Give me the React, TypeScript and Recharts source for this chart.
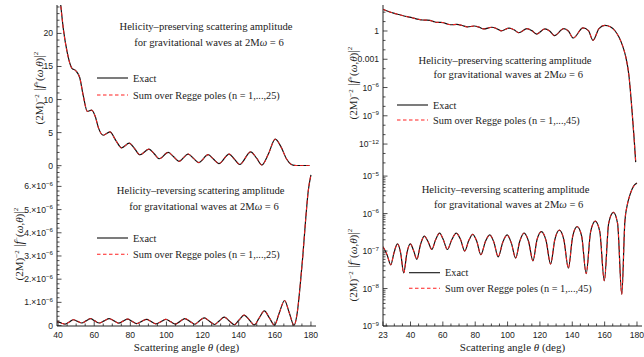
import React from "react";
import { LineChart, Line, XAxis, YAxis, Legend } from "recharts";

// |f+(ω,θ)|² / (2M)², helicity-preserving, 2Mω = 6
const thetaPlus = [
  23, 26, 29, 32, 35, 38, 41, 43, 45, 47.5, 50, 52, 54, 56.2, 58.6, 60.5, 62.5, 65, 68.7, 72, 75.2,
  79.4, 82.3, 85.3, 90.3, 93.2, 96, 101, 104, 106.9, 112, 115, 117.9, 123.1, 126, 129, 134.7, 137.7,
  140.6, 146.6, 150, 152.8, 156.5, 160.2, 163.5, 166.5, 169, 171, 173, 175, 176.9, 178.3, 179.2,
];
const ampPlus = [
  200, 125, 85, 60, 44, 33, 25.5, 20.5, 17.2, 14.8, 14.3, 13.3, 10.5, 8.2, 8.4, 7.5, 5.6, 4.6, 5.1, 3.8,
  2.7, 3.4, 2.6, 1.65, 2.5, 1.8, 1.05, 2.0, 1.35, 0.65, 1.76, 1.1, 0.47, 1.66, 1.0, 0.32, 1.76, 0.95,
  0.18, 2.1, 1.1, 0.1, 1.8, 4.0, 2.8, 1.0, 0.2, 0.03, 0.002, 2e-5, 4e-9, 2.5e-12, 1.2e-14,
];

// |f−(ω,θ)|² / (2M)², helicity-reversing, 2Mω = 6
const thetaMinus = [
  23, 25.5, 27.8, 29.8, 31.9, 33.9, 35.8, 37.8, 39.9, 42, 43.9, 46.2, 48.5, 50.8, 53.2, 55.5, 58, 60.3,
  62.8, 65.5, 68.3, 71, 73.5, 76, 78.5, 81, 83.5, 86.3, 89, 91.6, 94.2, 97, 99.7, 102.4, 105, 107.5,
  110.2, 113, 115.7, 118.2, 120.9, 123.8, 126.6, 129.2, 132, 134.8, 137.6, 140.2, 143, 145.8, 148.6,
  151.3, 154.2, 157, 159.8, 162.5, 165.4, 168, 170.6, 172.5, 174, 175.5, 177, 178.5, 180,
];
const ampMinus = [
  1.3e-7, 8e-8, 4.3e-8, 9e-8, 1.55e-7, 9e-8, 2.6e-8, 9e-8, 1.55e-7, 1e-7, 6e-8, 1.5e-7, 2.5e-7, 1.8e-7,
  1.1e-7, 2e-7, 3e-7, 2e-7, 1.1e-7, 2e-7, 3e-7, 2e-7, 1e-7, 1.9e-7, 2.8e-7, 1.8e-7, 8e-8, 1.8e-7,
  2.7e-7, 1.7e-7, 7e-8, 1.7e-7, 2.7e-7, 1.6e-7, 6.5e-8, 1.8e-7, 3e-7, 1.8e-7, 5.5e-8, 2e-7, 3.3e-7,
  1.9e-7, 4.5e-8, 2e-7, 3.6e-7, 2e-7, 3.5e-8, 2.4e-7, 4.5e-7, 2.5e-7, 2.5e-8, 3.2e-7, 6.3e-7, 3.3e-7,
  1.6e-8, 5.5e-7, 1.08e-6, 5.5e-7, 7e-9, 6e-7, 1.7e-6, 3e-6, 4.5e-6, 5.8e-6, 6.5e-6,
];

// labelled tick values
const leftAngleTicks = [40, 60, 80, 100, 120, 140, 160, 180];
const rightAngleTicks = [23, 40, 60, 80, 100, 120, 140, 160, 180];
const linPlusTicks = [0, 5, 10, 15, 20];
const linMinusTicks = [0, 1e-6, 2e-6, 3e-6, 4e-6, 5e-6, 6e-6];
const logPlusTicks = [1e-12, 1e-9, 1e-6, 1e-3, 1];
const logMinusTicks = [1e-9, 1e-8, 1e-7, 1e-6, 1e-5];

const SERIF = "'Liberation Serif', 'DejaVu Serif', serif";
const SANS = "'Liberation Sans', Arial, sans-serif";
const INK = "#222";
const EXACT = "#111";
const REGGE = "#ff2020";

type Row = { theta: number; exact: number; regge: number };

// the Regge-pole sum lies on top of the exact curve
const plusRows: Row[] = thetaPlus.map((theta, i) => ({ theta, exact: ampPlus[i], regge: ampPlus[i] }));
const minusRows: Row[] = thetaMinus.map((theta, i) => ({ theta, exact: ampMinus[i], regge: ampMinus[i] }));

const range = (a: number, b: number, step: number) => {
  const out: number[] = [];
  for (let v = a; v <= b + step * 1e-6; v += step) out.push(+v.toPrecision(10));
  return out;
};
const near = (v: number, list: number[]) => list.some((m) => Math.abs(v - m) <= Math.abs(m) * 1e-6 + 1e-18);
const withMinors = (major: number[], minor: number[]) => [...major, ...minor.filter((v) => !near(v, major))];

const leftAngleAll = withMinors(leftAngleTicks, range(40, 180, 5));
const rightAngleAll = withMinors(rightAngleTicks, range(25, 180, 5));
const linPlusAll = withMinors(linPlusTicks, range(0, 24, 1));
const linMinusAll = withMinors(linMinusTicks, range(0, 6.8e-6, 0.2e-6));
const logPlusAll = withMinors(logPlusTicks, range(-14, 2, 1).map((e) => Math.pow(10, e)));
const logMinusAll = withMinors(
  logMinusTicks,
  range(-9, -5, 1).flatMap((e) => range(1, 9, 1).map((k) => +(k * Math.pow(10, e)).toPrecision(6))).filter((v) => v < 1.8e-5)
);

const sup = (s: string) => (
  <tspan dy={-3.5} fontSize={6.2}>
    {s}
  </tspan>
);
const fmtPlain = (v: number) => String(v);
const fmtSci = (v: number) => (v === 0 ? "0" : <>{`${Math.round(v * 1e6)}.×10`}{sup("−6")}</>);
const fmtPow = (v: number) => <>10{sup(`−${-Math.round(Math.log10(v))}`)}</>;
const fmtLogPlus = (v: number) => (v === 1 ? "1" : near(v, [1e-3]) ? "0.001" : fmtPow(v));

type Side = "bottom" | "top" | "left" | "right";

// inward frame ticks, labelled on the bottom/left sides only
function frameTick(side: Side, major: number[], fmt?: (v: number) => React.ReactNode) {
  return (props: any) => {
    const { x, y, payload } = props;
    const big = near(payload.value, major);
    const len = big ? 4.5 : 2.5;
    const dx = side === "left" ? len : side === "right" ? -len : 0;
    const dy = side === "bottom" ? -len : side === "top" ? len : 0;
    return (
      <g>
        <line x1={x} y1={y} x2={x + dx} y2={y + dy} stroke={INK} strokeWidth={0.8} />
        {big && fmt && side === "bottom" && (
          <text x={x} y={y + 11.5} textAnchor="middle" fontFamily={SANS} fontSize={8.6} fill={INK}>
            {fmt(payload.value)}
          </text>
        )}
        {big && fmt && side === "left" && (
          <text x={x - 4} y={y + 3} textAnchor="end" fontFamily={SANS} fontSize={8.6} fill={INK}>
            {fmt(payload.value)}
          </text>
        )}
      </g>
    );
  };
}

function AmpTitle({ cx, cy, sign }: { cx: number; cy: number; sign: string }) {
  return (
    <text
      x={cx}
      y={cy}
      transform={`rotate(-90 ${cx} ${cy})`}
      textAnchor="middle"
      fontFamily={SERIF}
      fontSize={11}
      fill={INK}
    >
      (2M)
      <tspan dy={-4} fontSize={7}>
        −2
      </tspan>
      <tspan dy={4} fontSize={13}>
        {" |"}
      </tspan>
      <tspan fontStyle="italic" fontSize={12.5}>
        f
      </tspan>
      <tspan dy={-4.5} fontSize={7}>
        {sign}
      </tspan>
      <tspan dy={4.5}>(</tspan>
      <tspan fontStyle="italic">ω</tspan>,<tspan fontStyle="italic">θ</tspan>)
      <tspan fontSize={13}>|</tspan>
      <tspan dy={-5} fontSize={7}>
        2
      </tspan>
    </text>
  );
}

function AngleTitle(props: any) {
  const { x, y, width } = props.viewBox;
  return (
    <text x={x + width / 2} y={y + 25} textAnchor="middle" fontFamily={SERIF} fontSize={11} fill={INK}>
      Scattering angle <tspan fontStyle="italic">θ</tspan> (deg)
    </text>
  );
}

type NotesProps = {
  w: number;
  h: number;
  kind: string;
  poles: number;
  line1: [number, number];
  line2: [number, number];
  keyX: number;
  keyY: [number, number];
};

function Notes({ w, h, kind, poles, line1, line2, keyX, keyY }: NotesProps) {
  const txt = { fontFamily: SERIF, fill: INK };
  return (
    <svg width={w} height={h} style={{ position: "absolute", left: 0, top: 0, pointerEvents: "none" }}>
      <text x={line1[0]} y={line1[1]} textAnchor="middle" fontSize={10.6} {...txt}>
        {`Helicity–${kind} scattering amplitude`}
      </text>
      <text x={line2[0]} y={line2[1]} textAnchor="middle" fontSize={10.6} {...txt}>
        for gravitational waves at 2M<tspan fontStyle="italic">ω</tspan> = 6
      </text>
      <line x1={keyX} x2={keyX + 31} y1={keyY[0]} y2={keyY[0]} stroke={EXACT} strokeWidth={1.1} />
      <text x={keyX + 36} y={keyY[0] + 3.6} fontSize={10.3} {...txt}>
        Exact
      </text>
      <line
        x1={keyX}
        x2={keyX + 31}
        y1={keyY[1]}
        y2={keyY[1]}
        stroke={REGGE}
        strokeWidth={1.1}
        strokeDasharray="3.5 2.5"
      />
      <text x={keyX + 36} y={keyY[1] + 3.6} fontSize={10.3} {...txt}>
        {`Sum over Regge poles (n = 1,...,${poles})`}
      </text>
    </svg>
  );
}

type PanelProps = {
  left: number;
  top: number;
  width: number;
  height: number;
  margin: { top: number; right: number; bottom: number; left: number };
  yWidth: number;
  xHeight: number;
  rows: Row[];
  xDomain: [number, number];
  xTicks: number[];
  xMajor: number[];
  showAngles: boolean;
  yScale: "linear" | "log";
  yDomain: [number, number];
  yTicks: number[];
  yMajor: number[];
  yFmt: (v: number) => React.ReactNode;
  sign: string;
  titleAt: [number, number];
  notes: Omit<NotesProps, "w" | "h">;
};

function Panel(p: PanelProps) {
  return (
    <div style={{ position: "absolute", left: p.left, top: p.top }}>
      <LineChart width={p.width} height={p.height} data={p.rows} margin={p.margin}>
        <XAxis
          xAxisId="b"
          dataKey="theta"
          type="number"
          domain={p.xDomain}
          allowDataOverflow
          ticks={p.xTicks}
          interval={0}
          height={p.xHeight}
          tickLine={false}
          tickSize={0}
          tickMargin={0}
          axisLine={{ stroke: INK, strokeWidth: 1 }}
          tick={frameTick("bottom", p.xMajor, p.showAngles ? fmtPlain : undefined)}
          label={p.showAngles ? { content: AngleTitle } : undefined}
        />
        <XAxis
          xAxisId="t"
          orientation="top"
          dataKey="theta"
          type="number"
          domain={p.xDomain}
          allowDataOverflow
          ticks={p.xTicks}
          interval={0}
          height={0}
          tickLine={false}
          tickSize={0}
          tickMargin={0}
          axisLine={{ stroke: INK, strokeWidth: 1 }}
          tick={frameTick("top", p.xMajor)}
        />
        <YAxis
          yAxisId="l"
          scale={p.yScale}
          domain={p.yDomain}
          allowDataOverflow
          ticks={p.yTicks}
          interval={0}
          width={p.yWidth}
          tickLine={false}
          tickSize={0}
          tickMargin={0}
          axisLine={{ stroke: INK, strokeWidth: 1 }}
          tick={frameTick("left", p.yMajor, p.yFmt)}
          label={{ content: () => <AmpTitle cx={p.titleAt[0]} cy={p.titleAt[1]} sign={p.sign} /> }}
        />
        <YAxis
          yAxisId="r"
          orientation="right"
          scale={p.yScale}
          domain={p.yDomain}
          allowDataOverflow
          ticks={p.yTicks}
          interval={0}
          width={0}
          tickLine={false}
          tickSize={0}
          tickMargin={0}
          axisLine={{ stroke: INK, strokeWidth: 1 }}
          tick={frameTick("right", p.yMajor)}
        />
        <Line
          xAxisId="b"
          yAxisId="l"
          dataKey="exact"
          name="Exact"
          type="monotone"
          stroke={EXACT}
          strokeWidth={1.2}
          dot={false}
          isAnimationActive={false}
        />
        <Line
          xAxisId="b"
          yAxisId="l"
          dataKey="regge"
          name="Sum over Regge poles"
          type="monotone"
          stroke={REGGE}
          strokeWidth={1}
          strokeDasharray="3.5 2.5"
          dot={false}
          isAnimationActive={false}
        />
        <Legend
          verticalAlign="middle"
          align="center"
          layout="horizontal"
          wrapperStyle={{ left: 0, top: 0, width: p.width, height: p.height, pointerEvents: "none" }}
          content={() => <Notes w={p.width} h={p.height} {...p.notes} />}
        />
      </LineChart>
    </div>
  );
}

export default function App() {
  return (
    <div style={{ position: "absolute", left: 0, top: 0, width: 644, height: 357, background: "#fff" }}>
      <Panel
        left={0}
        top={0}
        width={330}
        height={170}
        margin={{ top: 5, right: 14, bottom: 4, left: 0 }}
        yWidth={57}
        xHeight={0}
        rows={plusRows}
        xDomain={[39.4, 182.8]}
        xTicks={leftAngleAll}
        xMajor={leftAngleTicks}
        showAngles={false}
        yScale="linear"
        yDomain={[-0.05, 24.3]}
        yTicks={linPlusAll}
        yMajor={linPlusTicks}
        yFmt={fmtPlain}
        sign="+"
        titleAt={[43, 88]}
        notes={{ kind: "preserving", poles: 25, line1: [206, 29.5], line2: [209, 45.5], keyX: 97, keyY: [78, 95] }}
      />
      <Panel
        left={0}
        top={150}
        width={330}
        height={207}
        margin={{ top: 16, right: 14, bottom: 0, left: 0 }}
        yWidth={57}
        xHeight={31}
        rows={minusRows}
        xDomain={[39.4, 182.8]}
        xTicks={leftAngleAll}
        xMajor={leftAngleTicks}
        showAngles
        yScale="linear"
        yDomain={[-0.02e-6, 6.88e-6]}
        yTicks={linMinusAll}
        yMajor={linMinusTicks}
        yFmt={fmtSci}
        sign="−"
        titleAt={[23, 94]}
        notes={{ kind: "reversing", poles: 25, line1: [200.7, 44], line2: [204, 59.5], keyX: 97, keyY: [88, 104.3] }}
      />
      <Panel
        left={322}
        top={0}
        width={322}
        height={170}
        margin={{ top: 5, right: 2, bottom: 4, left: 0 }}
        yWidth={61}
        xHeight={0}
        rows={plusRows}
        xDomain={[23, 183.1]}
        xTicks={rightAngleAll}
        xMajor={rightAngleTicks}
        showAngles={false}
        yScale="log"
        yDomain={[4.68e-15, 575]}
        yTicks={logPlusAll}
        yMajor={logPlusTicks}
        yFmt={fmtLogPlus}
        sign="+"
        titleAt={[35, 83]}
        notes={{ kind: "preserving", poles: 45, line1: [183, 63.5], line2: [186.3, 77.5], keyX: 75, keyY: [105, 120] }}
      />
      <Panel
        left={322}
        top={150}
        width={322}
        height={207}
        margin={{ top: 16, right: 2, bottom: 0, left: 0 }}
        yWidth={61}
        xHeight={31}
        rows={minusRows}
        xDomain={[23, 183.1]}
        xTicks={rightAngleAll}
        xMajor={rightAngleTicks}
        showAngles
        yScale="log"
        yDomain={[1e-9, 1.86e-5]}
        yTicks={logMinusAll}
        yMajor={logMinusTicks}
        yFmt={fmtPow}
        sign="−"
        titleAt={[35, 115]}
        notes={{ kind: "reversing", poles: 45, line1: [183.5, 42.5], line2: [186.7, 58], keyX: 87, keyY: [122.7, 138.3] }}
      />
    </div>
  );
}
